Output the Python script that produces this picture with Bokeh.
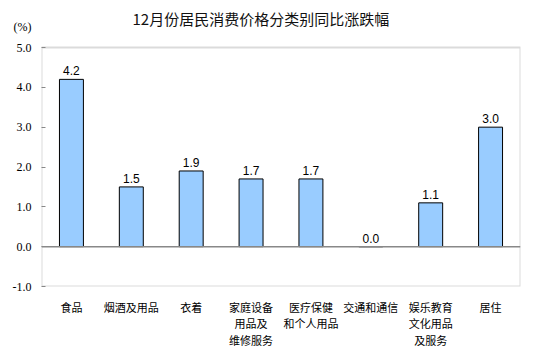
from bokeh.plotting import figure
from bokeh.models import (FactorRange, Range1d, Span, Label, ColumnDataSource, FixedTicker,
                          BoxAnnotation)
from bokeh.core.properties import value
from bokeh.embed import file_html
from bokeh.resources import INLINE

categories = ["食品", "烟酒及用品", "衣着", "家庭设备\n用品及\n维修服务", "医疗保健\n和个人用品",
              "交通和通信", "娱乐教育\n文化用品\n及服务", "居住"]
values = [4.2, 1.5, 1.9, 1.7, 1.7, 0.0, 1.1, 3.0]
value_labels = ["4.2", "1.5", "1.9", "1.7", "1.7", "0.0", "1.1", "3.0"]
y_ticks = [-1.0, 0.0, 1.0, 2.0, 3.0, 4.0, 5.0]
y_tick_labels = ["-1.0", "0.0", "1.0", "2.0", "3.0", "4.0", "5.0"]
y_min, y_max = -1.0, 5.0
unit_text = "(%)"
title_text = "12月份居民消费价格分类别同比涨跌幅"

src = ColumnDataSource(dict(cat=categories, val=values, lab=value_labels))

# frame extends to the top of the canvas so the title can sit inside it;
# the visible chart box is drawn from y_min to y_max
px_per_unit = (286 - 47) / (y_max - y_min)
top_val = y_max + 47 / px_per_unit
unit_pos = y_max + 21 / px_per_unit

p = figure(width=533, height=353, x_range=FactorRange(*categories), y_range=Range1d(y_min, top_val),
           output_backend="svg", toolbar_location=None,
           min_border_left=41, min_border_right=13, min_border_top=0, min_border_bottom=67)
p.title = None
p.background_fill_color = "white"
p.border_fill_color = "white"
p.outline_line_color = None
p.xgrid.visible = False
p.ygrid.visible = False

p.add_layout(BoxAnnotation(bottom=y_min, top=y_max, fill_color=None, fill_alpha=0,
                           line_color="#888888", line_width=2))

p.vbar(x="cat", top="val", bottom=0, width=0.4, source=src,
       fill_color="#99CCFF", line_color="black", line_width=1)
p.text(x="cat", y="val", text="lab", source=src, text_align="center", text_baseline="bottom",
       y_offset=-4, text_font=value("Liberation Sans"), text_font_size="12px", text_color="black")

p.add_layout(Span(location=0, dimension="width", line_color="#888888", line_width=1.5))

p.yaxis.ticker = FixedTicker(ticks=y_ticks + [unit_pos], minor_ticks=y_ticks)
overrides = {t: s for t, s in zip(y_ticks, y_tick_labels)}
overrides[unit_pos] = unit_text
p.yaxis.major_label_overrides = overrides
p.yaxis.major_label_text_font = "Liberation Serif"
p.yaxis.major_label_text_font_size = "12px"
p.yaxis.major_label_text_color = "black"
p.yaxis.axis_line_color = None
p.yaxis.major_tick_line_color = None
p.yaxis.minor_tick_line_color = "#888888"
p.yaxis.minor_tick_in = 4
p.yaxis.minor_tick_out = 0
p.yaxis.major_tick_in = 0
p.yaxis.major_tick_out = 0
p.yaxis.major_label_standoff = 10

p.xaxis.axis_line_color = None
p.xaxis.major_tick_line_color = None
p.xaxis.minor_tick_line_color = None
p.xaxis.major_label_text_font = "Noto Sans CJK SC"
p.xaxis.major_label_text_font_size = "11px"
p.xaxis.major_label_text_color = "black"
p.xaxis.major_label_standoff = 6
p.xaxis.major_label_text_line_height = 1.05

p.add_layout(Label(x=91, y=268, x_units="screen", y_units="screen", text=title_text,
                   text_font="Noto Sans CJK SC", text_font_size="15px", text_color="#111111",
                   text_baseline="middle", text_align="left"))

open("out.html", "w").write(file_html(p, INLINE))
